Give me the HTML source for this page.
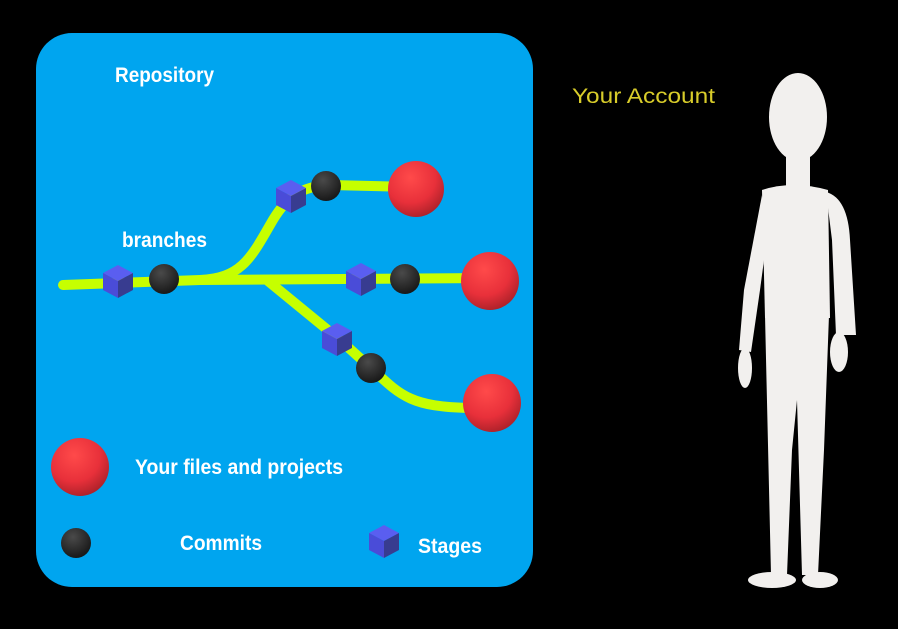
<!DOCTYPE html>
<html><head><style>
body{margin:0;background:#000;width:898px;height:629px;overflow:hidden}
svg{display:block}
.t{font-family:"Liberation Sans Narrow","Liberation Sans",sans-serif;font-weight:bold;fill:#fff;font-size:21px}
</style></head><body>
<svg width="898" height="629" viewBox="0 0 898 629">
<defs>
<radialGradient id="r" cx="0.4" cy="0.3" r="0.75"><stop offset="0" stop-color="#ff4a4a"/><stop offset="0.6" stop-color="#e8303a"/><stop offset="1" stop-color="#a82028"/></radialGradient>
<radialGradient id="b" cx="0.4" cy="0.3" r="0.75"><stop offset="0" stop-color="#4a4a4a"/><stop offset="1" stop-color="#151515"/></radialGradient>
<g id="cube"><polygon points="0,-16 15,-8 0,0 -15,-8" fill="#5a5ef0"/><polygon points="-15,-8 0,0 0,17 -15,9" fill="#4a4cd8"/><polygon points="15,-8 0,0 0,17 15,9" fill="#383c90"/></g>
</defs>
<rect x="36" y="33" width="497" height="554" rx="36" fill="#00a5ef"/>
<g fill="none" stroke="#c6ff00" stroke-width="10" stroke-linecap="round">
<path d="M63,285 L200,280 C240,278 250,260 270,225 C285,198 300,186 330,185 L410,187"/>
<path d="M200,280 L490,278"/>
<path d="M268,281 L340,340 L371,368 C400,395 410,407 470,408 L490,408"/>
</g>
<use href="#cube" x="118" y="281"/>
<use href="#cube" x="291" y="196"/>
<use href="#cube" x="361" y="279"/>
<use href="#cube" x="337" y="339"/>
<use href="#cube" x="384" y="541"/>
<circle cx="164" cy="279" r="15" fill="url(#b)"/>
<circle cx="326" cy="186" r="15" fill="url(#b)"/>
<circle cx="405" cy="279" r="15" fill="url(#b)"/>
<circle cx="371" cy="368" r="15" fill="url(#b)"/>
<circle cx="76" cy="543" r="15" fill="url(#b)"/>
<circle cx="416" cy="189" r="28" fill="url(#r)"/>
<circle cx="490" cy="281" r="29" fill="url(#r)"/>
<circle cx="492" cy="403" r="29" fill="url(#r)"/>
<circle cx="80" cy="467" r="29" fill="url(#r)"/>
<text class="t" x="115" y="82" textLength="99" lengthAdjust="spacingAndGlyphs">Repository</text>
<text class="t" x="122" y="247" textLength="85" lengthAdjust="spacingAndGlyphs">branches</text>
<text class="t" x="135" y="474" textLength="208" lengthAdjust="spacingAndGlyphs">Your files and projects</text>
<text class="t" x="180" y="550" textLength="82" lengthAdjust="spacingAndGlyphs">Commits</text>
<text class="t" x="418" y="553" textLength="64" lengthAdjust="spacingAndGlyphs">Stages</text>
<text x="572" y="103" font-family="Liberation Sans,sans-serif" font-size="21" fill="#d8cc2a" textLength="143" lengthAdjust="spacingAndGlyphs">Your Account</text>
<g fill="#f2f0ee">
<ellipse cx="798" cy="117" rx="29" ry="44"/>
<rect x="786" y="150" width="24" height="40"/>
<path d="M762,190 Q792,180 828,190 L830,318 L765,318 Z"/>
<path d="M762,195 L744,290 L739,350 L751,352 L760,290 L768,230 Z"/>
<ellipse cx="745" cy="368" rx="7" ry="20"/>
<path d="M826,192 Q848,198 850,240 L856,335 L836,335 L832,240 Z"/>
<ellipse cx="839" cy="352" rx="9" ry="20"/>
<path d="M765,315 L829,315 L824,450 L818,575 L802,575 L797,400 L792,450 L787,575 L771,575 Z"/>
<ellipse cx="772" cy="580" rx="24" ry="8"/>
<ellipse cx="820" cy="580" rx="18" ry="8"/>
</g>
</svg>
</body></html>
